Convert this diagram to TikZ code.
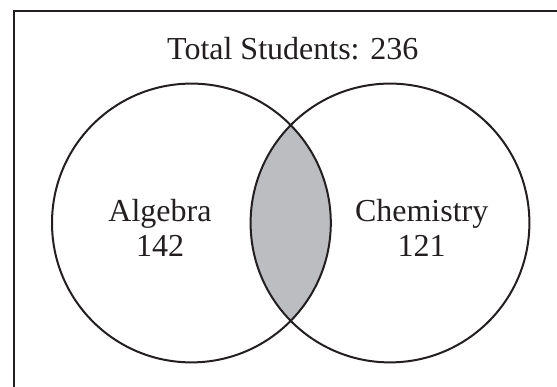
\documentclass[tikz,border=0pt]{standalone}
\usepackage{fontspec}
\setmainfont{Liberation Serif}
\definecolor{ink}{HTML}{231F20}
\definecolor{lens}{HTML}{BCBDC0}
\tikzset{
  x=1pt, y=1pt,
  frameline/.style={draw=ink, line width=2pt},
  setcircle/.style={draw=ink, line width=2pt},
  lbl/.style={inner sep=0pt, anchor=base, text=ink, font=\fontsize{32}{35}\selectfont}
}
\begin{document}
\begin{tikzpicture}
\useasboundingbox (0,0) rectangle (557,387);
\fill[white] (0,0) rectangle (557,387);
% frame (only top and left edges visible)
\coordinate (fbl) at (13.8,0);
\coordinate (ftl) at (13.8,375.7);
\coordinate (ftr) at (557,375.7);
\draw[frameline] (fbl) -- (ftl) -- (ftr);
% circle centres
\coordinate (cA) at (191.4,164);
\coordinate (cC) at (390,164);
% intersection shading
\begin{scope}
  \clip (cA) circle (139.4);
  \fill[lens] (cC) circle (139.4);
\end{scope}
\draw[setcircle] (cA) circle (139.4);
\draw[setcircle] (cC) circle (139.4);
% labels
\node[lbl] (total) at (292.7,327) {Total Students: 236};
\node[lbl] (alg) at (160,165.3) {Algebra};
\node[lbl] (algn) at (160,130.3) {142};
\node[lbl] (chem) at (421.7,165.3) {Chemistry};
\node[lbl] (chemn) at (421.7,130.3) {121};
\end{tikzpicture}
\end{document}
